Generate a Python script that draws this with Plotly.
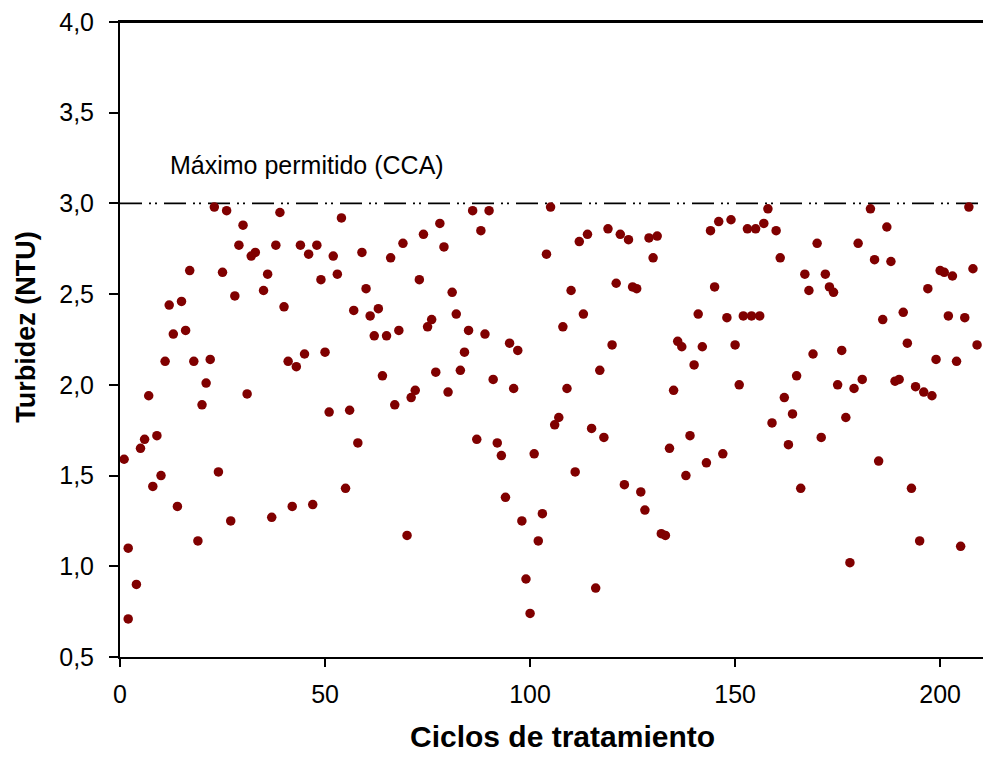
import plotly.graph_objects as go

ciclos = [1, 2, 2, 4, 5, 6, 7, 8, 9, 10, 11, 12, 13, 14, 15, 16, 17, 18, 19, 20,
          21, 22, 23, 24, 25, 26, 27, 28, 29, 30, 31, 32, 33, 35, 36, 37, 38, 39, 40,
          41, 42, 43, 44, 45, 46, 47, 48, 49, 50, 51, 52, 53, 54, 55, 56, 57, 58, 59, 60,
          61, 62, 63, 64, 65, 66, 67, 68, 69, 70, 71, 72, 73, 74, 75, 76, 77, 78, 79, 80,
          81, 82, 83, 84, 85, 86, 87, 88, 89, 90, 91, 92, 93, 94, 95, 96, 97, 98, 99, 100,
          101, 102, 103, 104, 105, 106, 107, 108, 109, 110, 111, 112, 113, 114, 115, 116, 117, 118, 119, 120,
          121, 122, 123, 124, 125, 126, 127, 128, 129, 130, 131, 132, 133, 134, 135, 136, 137, 138, 139, 140,
          141, 142, 143, 144, 145, 146, 147, 148, 149, 150, 151, 152, 153, 154, 155, 156, 157, 158, 159, 160,
          161, 162, 163, 164, 165, 166, 167, 168, 169, 170, 171, 172, 173, 174, 175, 176, 177, 178, 179, 180,
          181, 183, 184, 185, 186, 187, 188, 189, 190, 191, 192, 193, 194, 195, 196, 197, 198, 199, 200,
          201, 202, 203, 204, 205, 206, 207, 208, 209]

turbidez = [1.59, 1.10, 0.71, 0.90, 1.65, 1.70, 1.94, 1.44, 1.72, 1.50, 2.13, 2.44, 2.28, 1.33, 2.46, 2.30, 2.63, 2.13, 1.14, 1.89,
            2.01, 2.14, 2.98, 1.52, 2.62, 2.96, 1.25, 2.49, 2.77, 2.88, 1.95, 2.71, 2.73, 2.52, 2.61, 1.27, 2.77, 2.95, 2.43,
            2.13, 1.33, 2.10, 2.77, 2.17, 2.72, 1.34, 2.77, 2.58, 2.18, 1.85, 2.71, 2.61, 2.92, 1.43, 1.86, 2.41, 1.68, 2.73, 2.53,
            2.38, 2.27, 2.42, 2.05, 2.27, 2.70, 1.89, 2.30, 2.78, 1.17, 1.93, 1.97, 2.58, 2.83, 2.32, 2.36, 2.07, 2.89, 2.76, 1.96,
            2.51, 2.39, 2.08, 2.18, 2.30, 2.96, 1.70, 2.85, 2.28, 2.96, 2.03, 1.68, 1.61, 1.38, 2.23, 1.98, 2.19, 1.25, 0.93, 0.74,
            1.62, 1.14, 1.29, 2.72, 2.98, 1.78, 1.82, 2.32, 1.98, 2.52, 1.52, 2.79, 2.39, 2.83, 1.76, 0.88, 2.08, 1.71, 2.86, 2.22,
            2.56, 2.83, 1.45, 2.80, 2.54, 2.53, 1.41, 1.31, 2.81, 2.70, 2.82, 1.18, 1.17, 1.65, 1.97, 2.24, 2.21, 1.50, 1.72, 2.11,
            2.39, 2.21, 1.57, 2.85, 2.54, 2.90, 1.62, 2.37, 2.91, 2.22, 2.00, 2.38, 2.86, 2.38, 2.86, 2.38, 2.89, 2.97, 1.79, 2.85,
            2.70, 1.93, 1.67, 1.84, 2.05, 1.43, 2.61, 2.52, 2.17, 2.78, 1.71, 2.61, 2.54, 2.51, 2.00, 2.19, 1.82, 1.02, 1.98, 2.78,
            2.03, 2.97, 2.69, 1.58, 2.36, 2.87, 2.68, 2.02, 2.03, 2.40, 2.23, 1.43, 1.99, 1.14, 1.96, 2.53, 1.94, 2.14, 2.63,
            2.62, 2.38, 2.60, 2.13, 1.11, 2.37, 2.98, 2.64, 2.22]

limite_cca = 3.0
etiqueta_limite = "Máximo permitido (CCA)"
x_ticks = [0, 50, 100, 150, 200]
y_ticks = [0.5, 1.0, 1.5, 2.0, 2.5, 3.0, 3.5, 4.0]
x_rango = [0, 212.4]
y_rango = [0.5, 4.0]

FONT = "Liberation Sans, Arial, sans-serif"

fig = go.Figure()
fig.add_trace(go.Scatter(
    x=ciclos, y=turbidez, mode="markers",
    marker=dict(color="#800000", size=9.5, line=dict(width=0)),
    showlegend=False, cliponaxis=False,
))

fig.add_shape(type="line", xref="x", yref="y",
              x0=x_rango[0], x1=x_rango[1], y0=limite_cca, y1=limite_cca,
              line=dict(color="black", width=1.8, dash="22px,7px,2px,4px,2px,7px"),
              layer="below")

# top frame line
fig.add_shape(type="line", xref="paper", yref="paper",
              x0=0, x1=1, y0=1, y1=1,
              line=dict(color="black", width=2), layer="above")

fig.add_annotation(x=11.7, y=limite_cca + 0.21, xref="x", yref="y",
                   text=etiqueta_limite, showarrow=False,
                   xanchor="left", yanchor="middle",
                   font=dict(family=FONT, size=25, color="black"))

fig.add_annotation(x=-0.108, y=0.52, xref="paper", yref="paper",
                   text="<b>Turbidez (NTU)</b>", textangle=-90, showarrow=False,
                   xanchor="center", yanchor="middle",
                   font=dict(family=FONT, size=27, color="black"))

fig.add_annotation(x=0.5075, y=-0.1525, xref="paper", yref="paper",
                   text="<b>Ciclos de tratamiento</b>", showarrow=False,
                   xanchor="center", yanchor="bottom", borderpad=0,
                   font=dict(family=FONT, size=30, color="black"))

# The page body adds an 8 px offset, so the figure is sized to fill the remaining window.
fig.update_layout(
    width=983, height=749,
    margin=dict(l=112, r=0, t=12, b=100),
    paper_bgcolor="white", plot_bgcolor="white",
    separators=",.",
    font=dict(family=FONT, size=25, color="black"),
    xaxis=dict(range=x_rango, tickvals=x_ticks, showgrid=False, zeroline=False,
               showline=True, linecolor="black", linewidth=2, mirror=True,
               ticks="outside", ticklen=8, tickwidth=1.5, tickcolor="black",
               ticklabelstandoff=6, ticklabeloverflow="allow",
               tickfont=dict(family=FONT, size=25, color="black")),
    yaxis=dict(range=y_rango, tickvals=y_ticks, tickformat=".1f", showgrid=False, zeroline=False,
               showline=True, linecolor="black", linewidth=2, mirror=False,
               ticks="outside", ticklen=9, tickwidth=1.5, tickcolor="black",
               ticklabelstandoff=10, ticklabeloverflow="allow",
               tickfont=dict(family=FONT, size=25, color="black")),
)

fig.write_html("out.html")
